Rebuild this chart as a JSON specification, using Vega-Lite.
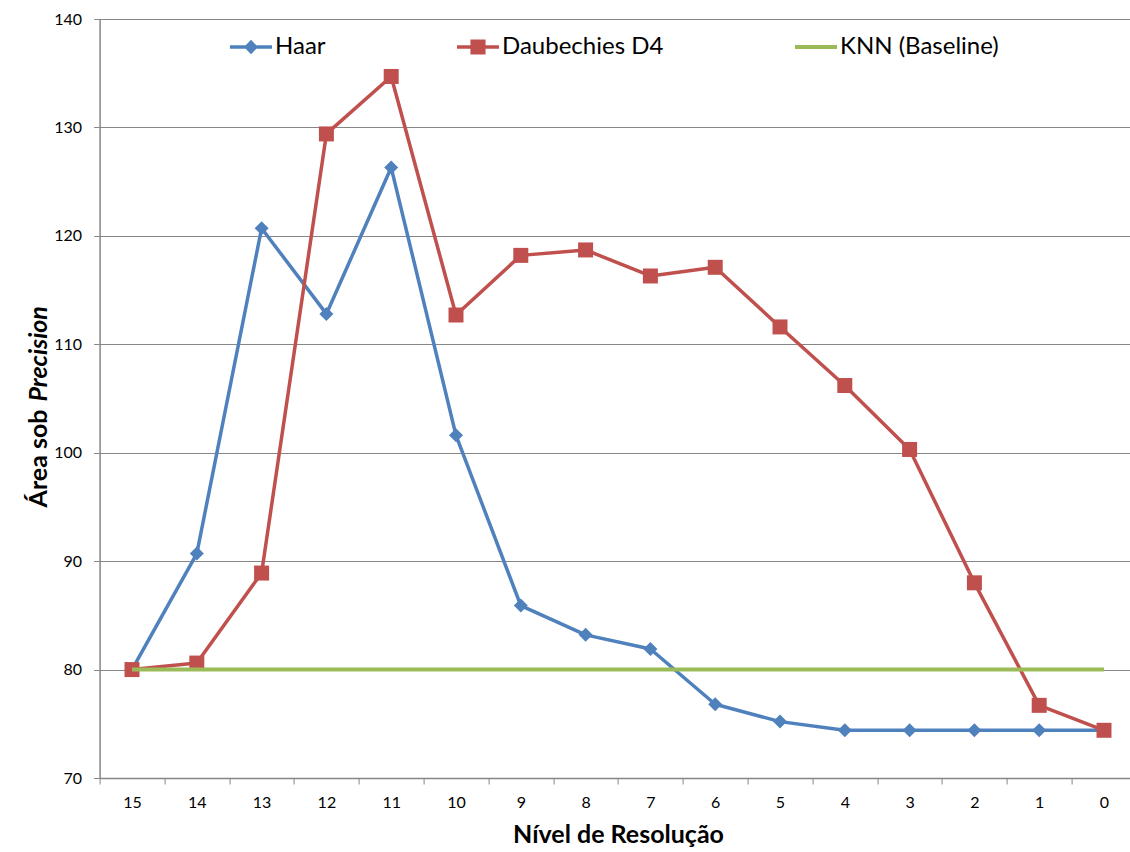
{
  "$schema": "https://vega.github.io/schema/vega-lite/v6.json",
  "autosize": "none",
  "width": 1030.4,
  "height": 759,
  "padding": {"left": 99.6, "top": 19, "right": 0, "bottom": 74},
  "background": "white",
  "config": {
    "font": "Lato",
    "view": {"stroke": null},
    "axis": {
      "domainColor": "#868686",
      "tickColor": "#868686",
      "gridColor": "#868686",
      "labelColor": "#000000",
      "titleColor": "#000000",
      "labelFont": "Lato",
      "titleFont": "Lato"
    }
  },
  "data": {
    "values": [
      {"nivel": 15, "serie": "Haar", "valor": 80.0},
      {"nivel": 14, "serie": "Haar", "valor": 90.7},
      {"nivel": 13, "serie": "Haar", "valor": 120.7},
      {"nivel": 12, "serie": "Haar", "valor": 112.8},
      {"nivel": 11, "serie": "Haar", "valor": 126.3},
      {"nivel": 10, "serie": "Haar", "valor": 101.6},
      {"nivel": 9, "serie": "Haar", "valor": 85.9},
      {"nivel": 8, "serie": "Haar", "valor": 83.2},
      {"nivel": 7, "serie": "Haar", "valor": 81.9},
      {"nivel": 6, "serie": "Haar", "valor": 76.8},
      {"nivel": 5, "serie": "Haar", "valor": 75.2},
      {"nivel": 4, "serie": "Haar", "valor": 74.4},
      {"nivel": 3, "serie": "Haar", "valor": 74.4},
      {"nivel": 2, "serie": "Haar", "valor": 74.4},
      {"nivel": 1, "serie": "Haar", "valor": 74.4},
      {"nivel": 0, "serie": "Haar", "valor": 74.4},
      {"nivel": 15, "serie": "Daubechies D4", "valor": 80.0},
      {"nivel": 14, "serie": "Daubechies D4", "valor": 80.6},
      {"nivel": 13, "serie": "Daubechies D4", "valor": 88.9},
      {"nivel": 12, "serie": "Daubechies D4", "valor": 129.4},
      {"nivel": 11, "serie": "Daubechies D4", "valor": 134.7},
      {"nivel": 10, "serie": "Daubechies D4", "valor": 112.7},
      {"nivel": 9, "serie": "Daubechies D4", "valor": 118.2},
      {"nivel": 8, "serie": "Daubechies D4", "valor": 118.7},
      {"nivel": 7, "serie": "Daubechies D4", "valor": 116.3},
      {"nivel": 6, "serie": "Daubechies D4", "valor": 117.1},
      {"nivel": 5, "serie": "Daubechies D4", "valor": 111.6},
      {"nivel": 4, "serie": "Daubechies D4", "valor": 106.2},
      {"nivel": 3, "serie": "Daubechies D4", "valor": 100.3},
      {"nivel": 2, "serie": "Daubechies D4", "valor": 88.0},
      {"nivel": 1, "serie": "Daubechies D4", "valor": 76.7},
      {"nivel": 0, "serie": "Daubechies D4", "valor": 74.4},
      {"nivel": 15, "serie": "KNN (Baseline)", "valor": 80},
      {"nivel": 14, "serie": "KNN (Baseline)", "valor": 80},
      {"nivel": 13, "serie": "KNN (Baseline)", "valor": 80},
      {"nivel": 12, "serie": "KNN (Baseline)", "valor": 80},
      {"nivel": 11, "serie": "KNN (Baseline)", "valor": 80},
      {"nivel": 10, "serie": "KNN (Baseline)", "valor": 80},
      {"nivel": 9, "serie": "KNN (Baseline)", "valor": 80},
      {"nivel": 8, "serie": "KNN (Baseline)", "valor": 80},
      {"nivel": 7, "serie": "KNN (Baseline)", "valor": 80},
      {"nivel": 6, "serie": "KNN (Baseline)", "valor": 80},
      {"nivel": 5, "serie": "KNN (Baseline)", "valor": 80},
      {"nivel": 4, "serie": "KNN (Baseline)", "valor": 80},
      {"nivel": 3, "serie": "KNN (Baseline)", "valor": 80},
      {"nivel": 2, "serie": "KNN (Baseline)", "valor": 80},
      {"nivel": 1, "serie": "KNN (Baseline)", "valor": 80},
      {"nivel": 0, "serie": "KNN (Baseline)", "valor": 80}
    ]
  },
  "encoding": {
    "x": {
      "field": "nivel",
      "type": "ordinal",
      "sort": "descending",
      "scale": {"type": "band", "paddingInner": 0, "paddingOuter": 0, "range": [0, 1036.8]}
    },
    "y": {
      "field": "valor",
      "type": "quantitative",
      "scale": {"domain": [70, 140], "nice": false, "zero": false}
    }
  },
  "layer": [
    {
      "transform": [{"filter": "datum.serie === 'Haar'"}],
      "mark": {"type": "line", "color": "#4F81BD", "strokeWidth": 3.5, "strokeJoin": "round", "strokeCap": "round"},
      "encoding": {
        "x": {
          "field": "nivel",
          "type": "ordinal",
          "sort": "descending",
          "scale": {"type": "band", "paddingInner": 0, "paddingOuter": 0, "range": [0, 1036.8]},
          "axis": {
            "title": "Nível de Resolução",
            "titleFontSize": 25,
            "titleFontWeight": "bold",
            "titlePadding": 12,
            "labelFontSize": 16,
            "labelAngle": 0,
            "labelPadding": 10,
            "tickBand": "extent",
            "tickSize": 6,
            "domainWidth": 1.5,
            "grid": false
          }
        },
        "y": {
          "field": "valor",
          "type": "quantitative",
          "scale": {"domain": [70, 140], "nice": false, "zero": false},
          "axis": {
            "values": [70, 80, 90, 100, 110, 120, 130, 140],
            "grid": true,
            "gridWidth": 1,
            "tickSize": 6,
            "domainWidth": 1.5,
            "labelFontSize": 16,
            "labelPadding": 12,
            "title": "Área sob",
            "titleFontSize": 25,
            "titleFontWeight": "bold",
            "titleAngle": -90,
            "titleAlign": "right",
            "titleBaseline": "middle",
            "titleX": -61,
            "titleY": 390
          }
        }
      }
    },
    {
      "transform": [{"filter": "datum.serie === 'Haar'"}],
      "mark": {"type": "point", "shape": "diamond", "filled": true, "opacity": 1, "color": "#4F81BD", "size": 196},
      "encoding": {"y": {"field": "valor", "type": "quantitative", "axis": null}}
    },
    {
      "transform": [{"filter": "datum.serie === 'Daubechies D4'"}],
      "mark": {"type": "line", "color": "#C0504D", "strokeWidth": 3.5, "strokeJoin": "round", "strokeCap": "round"},
      "encoding": {"y": {"field": "valor", "type": "quantitative", "axis": null}}
    },
    {
      "transform": [{"filter": "datum.serie === 'Daubechies D4'"}],
      "mark": {"type": "point", "shape": "square", "filled": true, "opacity": 1, "color": "#C0504D", "size": 225},
      "encoding": {"y": {"field": "valor", "type": "quantitative", "axis": null}}
    },
    {
      "transform": [{"filter": "datum.serie === 'KNN (Baseline)'"}],
      "mark": {"type": "line", "color": "#9BBB59", "strokeWidth": 4, "strokeCap": "butt"},
      "encoding": {
        "y": {
          "field": "valor",
          "type": "quantitative",
          "axis": {
            "orient": "left",
            "labels": false,
            "ticks": false,
            "domain": false,
            "grid": false,
            "title": "Precision",
            "titleFontSize": 25,
            "titleFontWeight": "bold",
            "titleFontStyle": "italic",
            "titleAngle": -90,
            "titleAlign": "left",
            "titleBaseline": "middle",
            "titleX": -61,
            "titleY": 382
          }
        }
      }
    },
    {
      "mark": {"type": "point", "filled": true, "opacity": 0},
      "encoding": {
        "y": {"field": "valor", "type": "quantitative", "axis": null},
        "color": {
          "field": "serie",
          "type": "nominal",
          "scale": {
            "domain": ["Haar", "Daubechies D4", "KNN (Baseline)"],
            "range": ["#4F81BD", "#C0504D", "#9BBB59"]
          },
          "legend": {
            "title": null,
            "orient": "none",
            "direction": "horizontal",
            "legendX": 130.4,
            "legendY": 7,
            "padding": 0,
            "columns": 3,
            "columnPadding": 131,
            "labelFontSize": 24,
            "labelFont": "Lato",
            "labelColor": "#000000",
            "labelOffset": 3,
            "labelLimit": 400,
            "symbolSize": 1764,
            "symbolStrokeWidth": 0,
            "symbolOpacity": 1
          }
        },
        "shape": {
          "field": "serie",
          "type": "nominal",
          "scale": {
            "domain": ["Haar", "Daubechies D4", "KNN (Baseline)"],
            "range": [
              "M-1,-0.085L1,-0.085L1,0.085L-1,0.085Z M-0.33,0L0,-0.35L0.33,0L0,0.35Z",
              "M-1,-0.085L1,-0.085L1,0.085L-1,0.085Z M-0.36,-0.36L0.36,-0.36L0.36,0.36L-0.36,0.36Z",
              "M-1,-0.095L1,-0.095L1,0.095L-1,0.095Z"
            ]
          },
          "legend": {
            "title": null,
            "orient": "none",
            "direction": "horizontal",
            "legendX": 130.4,
            "legendY": 7,
            "padding": 0,
            "columns": 3,
            "columnPadding": 131,
            "labelFontSize": 24,
            "labelFont": "Lato",
            "labelColor": "#000000",
            "labelOffset": 3,
            "labelLimit": 400,
            "symbolSize": 1764,
            "symbolStrokeWidth": 0,
            "symbolOpacity": 1
          }
        }
      }
    }
  ],
  "resolve": {"axis": {"y": "independent"}}
}
